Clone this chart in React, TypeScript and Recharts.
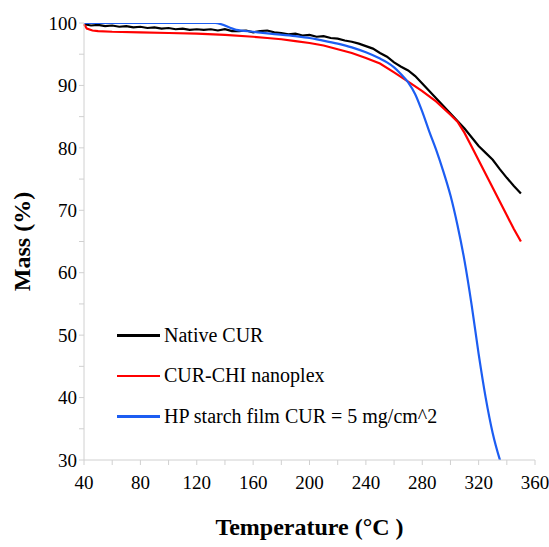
import { LineChart, Line, XAxis, YAxis, Legend } from "recharts"

const nativeTemp = [40, 45, 50, 55, 60, 65, 70, 75, 80, 85, 90, 95, 100, 105, 110, 115, 120, 125, 130, 135, 140, 145, 150, 155, 160, 165, 170, 175, 180, 185, 190, 195, 200, 205, 210, 215, 220, 225, 230, 235, 240, 245, 250, 255, 260, 265, 270, 275, 280, 285, 290, 295, 300, 305, 310, 315, 320, 325, 330, 335, 340, 345, 350]
const nativeMass = [99.8, 99.6, 99.7, 99.5, 99.6, 99.4, 99.5, 99.3, 99.4, 99.2, 99.3, 99.1, 99.2, 99.0, 99.1, 98.9, 99.0, 98.9, 99.0, 98.8, 99.0, 98.7, 98.7, 98.8, 98.5, 98.7, 98.8, 98.5, 98.4, 98.2, 98.3, 98.0, 98.1, 97.8, 97.9, 97.6, 97.5, 97.2, 97.0, 96.7, 96.3, 95.9, 95.2, 94.6, 93.7, 93.0, 92.4, 91.5, 90.3, 89.1, 87.9, 86.7, 85.5, 84.3, 83.1, 81.7, 80.3, 79.2, 78.1, 76.6, 75.2, 73.9, 72.7]

const nanoplexTemp = [40, 42, 46, 50, 60, 80, 100, 120, 140, 160, 170, 180, 190, 200, 210, 220, 230, 240, 250, 260, 270, 280, 290, 300, 305, 310, 315, 320, 325, 330, 335, 340, 345, 350]
const nanoplexMass = [99.8, 99.1, 98.8, 98.7, 98.6, 98.5, 98.4, 98.3, 98.1, 97.8, 97.6, 97.4, 97.1, 96.8, 96.4, 95.8, 95.2, 94.4, 93.5, 92.1, 90.6, 89.1, 87.4, 85.3, 84.2, 82.4, 80.2, 78.0, 75.8, 73.6, 71.4, 69.2, 67.0, 65.0]

const filmTemp = [40, 80, 133, 148, 160, 172, 190, 200, 207, 220, 230, 240, 250, 255, 260, 265, 270, 275, 280, 285, 290, 295, 300, 305, 310, 315, 320, 325, 330, 335, 338]
const filmMass = [100, 100, 100, 98.9, 98.6, 98.3, 97.9, 97.6, 97.3, 96.7, 96.1, 95.3, 94.3, 93.7, 92.9, 91.8, 90.5, 88.6, 85.8, 82.6, 79.6, 76.2, 72.4, 67.6, 61.9, 54.9, 47.0, 40.0, 34.3, 30.1, 28]

const xTicks = [40, 60, 80, 100, 120, 140, 160, 180, 200, 220, 240, 260, 280, 300, 320, 340, 360]
const yTicks = [30, 35, 40, 45, 50, 55, 60, 65, 70, 75, 80, 85, 90, 95, 100]

const seriesNames = ["Native CUR", "CUR-CHI nanoplex", "HP starch film CUR = 5 mg/cm^2"]
const seriesColors = ["#000000", "#ff0000", "#1c5df2"]
const seriesCurve = ["linear", "linear", "monotone"] as const

const toPoints = (t: number[], m: number[]) => t.map((x, i) => ({ t: x, m: m[i] }))

const series = [
  toPoints(nativeTemp, nativeMass),
  toPoints(nanoplexTemp, nanoplexMass),
  toPoints(filmTemp, filmMass),
]

const font = "'Liberation Serif', 'Times New Roman', serif"

function LegendBox() {
  return (
    <div style={{ fontFamily: font, fontSize: 20, color: "#000" }}>
      {seriesNames.map((name, i) => (
        <div key={name} style={{ display: "flex", alignItems: "center", height: 40.5 }}>
          <span style={{ display: "inline-block", width: 43, height: 2.5, background: seriesColors[i], marginRight: 4 }} />
          <span>{name}</span>
        </div>
      ))}
    </div>
  )
}

export default function App() {
  return (
    <div style={{ position: "absolute", left: 0, top: 0, background: "#fff" }}>
      <LineChart width={549} height={547} margin={{ top: 23, right: 14, bottom: 0, left: 40 }}>
        <XAxis
          type="number"
          dataKey="t"
          domain={[40, 360]}
          ticks={xTicks}
          interval={0}
          tickFormatter={(v: number) => (v % 40 === 0 ? String(v) : "")}
          stroke="#d0d0d0"
          tickSize={5}
          tickMargin={11}
          tick={{ fill: "#000", fontSize: 19, fontFamily: font }}
          height={87}
          label={{ value: "Temperature (°C )", position: "insideBottom", offset: 12, style: { fontFamily: font, fontSize: 24, fontWeight: "bold", fill: "#000" } }}
        />
        <YAxis
          type="number"
          dataKey="m"
          domain={[30, 100]}
          ticks={yTicks}
          interval={0}
          allowDataOverflow
          tickFormatter={(v: number) => (v % 10 === 0 ? String(v) : "")}
          stroke="#d0d0d0"
          tickSize={5}
          tickMargin={2}
          tick={{ fill: "#000", fontSize: 19, fontFamily: font }}
          width={44}
          label={{ value: "Mass (%)", angle: -90, position: "left", offset: 19, style: { fontFamily: font, fontSize: 24, fontWeight: "bold", fill: "#000", textAnchor: "middle" } }}
        />
        {series.map((d, i) => (
          <Line
            key={seriesNames[i]}
            data={d}
            dataKey="m"
            name={seriesNames[i]}
            stroke={seriesColors[i]}
            strokeWidth={2.2}
            dot={false}
            type={seriesCurve[i]}
            isAnimationActive={false}
          />
        ))}
        <Legend
          verticalAlign="middle"
          align="center"
          layout="horizontal"
          content={() => <LegendBox />}
          wrapperStyle={{ position: "absolute", left: 117, top: 315, width: "auto" }}
        />
      </LineChart>
    </div>
  )
}
